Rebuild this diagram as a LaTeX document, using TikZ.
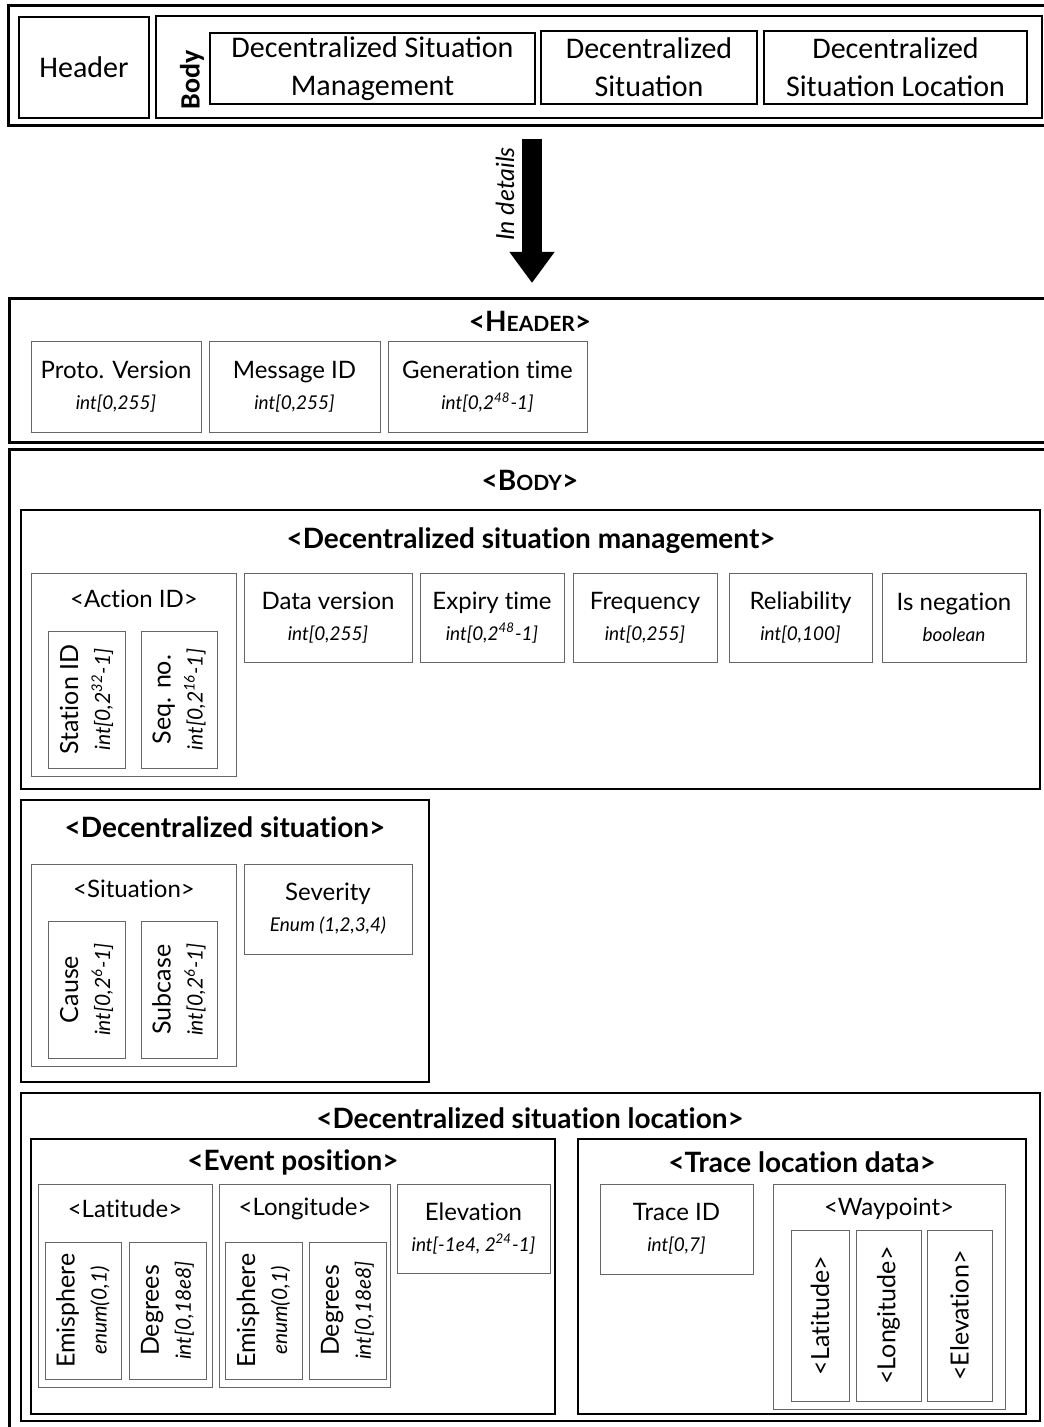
\documentclass[tikz,border=0pt]{standalone}
\usepackage{fontspec}
\setmainfont{Lato}[RawFeature={-liga;-clig;-calt;-rlig;-dlig}]
\newfontfamily\calibri{Carlito}
\usetikzlibrary{fit,arrows.meta}

\newcommand{\rng}[1]{{\itshape\fontsize{9.5}{11}\selectfont #1}}
\newcommand{\rrng}[1]{{\itshape\fontsize{10.5}{12}\selectfont #1}}
\newcommand{\smcp}[1]{{\fontsize{10.5}{12}\selectfont #1}}

\tikzset{
  frame/.style={draw, line width=1.5pt, inner sep=0pt},
  block/.style={draw, line width=1.2pt, inner sep=0pt},
  group/.style={draw=black!60, line width=0.5pt, inner sep=0pt},
  ftext/.style={align=center, font=\fontsize{12}{15.5}\selectfont},
  vtext/.style={rotate=90, align=center, font=\fontsize{12.5}{16}\selectfont},
  title/.style={font=\bfseries\fontsize{14}{16}\selectfont},
  caption/.style={font=\fontsize{12}{15}\selectfont},
  topbox/.style={draw, line width=1pt, inner sep=0pt},
  toptext/.style={align=center, font=\calibri\fontsize{15}{19}\selectfont},
  bigarrow/.style={line width=10pt, -{Triangle[width=21.5pt, length=15.5pt]}},
}

\begin{document}
\begin{tikzpicture}[x=0.5pt, y=-0.5pt]
  \useasboundingbox (0,0) rectangle (1043,1427);

  % message overview
  \node[frame, fit={(8,6) (1050,126)}] (overview) {};
  \node[topbox, fit={(19,17) (149,118)}] (hdr) {};
  \node[toptext] (hdrText) at (hdr) {Header};
  \node[topbox, fit={(156,16) (1042,118)}] (body) {};
  \node[rotate=90, font=\calibri\bfseries\fontsize{14}{16}\selectfont] (bodyLabel) at (192,80) {Body};
  \node[topbox, fit={(210,33) (535,104)}] (dsm) {};
  \node[toptext] (dsmText) at (dsm) {Decentralized Situation\\Management};
  \node[topbox, fit={(541,31) (757,104)}] (ds) {};
  \node[toptext] (dsText) at (ds) {Decentralized\\Situation};
  \node[topbox, fit={(764,31) (1027,104)}] (dsl) {};
  \node[toptext] (dslText) at (dsl) {Decentralized\\Situation Location};

  \coordinate (arrowStart) at (532,139);
  \coordinate (arrowEnd) at (532,283);
  \draw[bigarrow] (arrowStart) -- (arrowEnd);
  \node[rotate=90, font=\itshape\fontsize{12.5}{15}\selectfont] (inDetails) at (505,194) {In details};

  % header
  \node[frame, fit={(9,299) (1051,442)}] (header) {};
  \node[title] (headerTitle) at (530,321) {<H\smcp{EADER}>};
  \node[group, fit={(31,342) (201,432)}] (proto) {};
  \node[ftext] (protoText) at (proto) {Proto. Version\\\rng{int[0,255]}};
  \node[group, fit={(209,342) (380,432)}] (msgId) {};
  \node[ftext] (msgIdText) at (msgId) {Message ID\\\rng{int[0,255]}};
  \node[group, fit={(388,342) (587,432)}] (genTime) {};
  \node[ftext] (genTimeText) at (genTime) {Generation time\\\rng{int[0,2\textsuperscript{48}-1]}};

  % body
  \node[frame, fit={(9,449) (1051,1432)}] (bodyFrame) {};
  \node[title] (bodyTitle) at (530,480) {<B\smcp{ODY}>};

  % decentralized situation management
  \node[block, fit={(21,510) (1040,789)}] (dsmFrame) {};
  \node[title] (dsmTitle) at (531,541) {<Decentralized situation management>};
  \node[group, fit={(31,573) (236,776)}] (actionId) {};
  \node[caption] (actionIdTitle) at (134,599) {<Action ID>};
  \node[group, fit={(48,631) (125,768)}] (stationId) {};
  \node[vtext] (stationIdText) at (stationId) {Station ID\\\rrng{int[0,2\textsuperscript{32}-1]}};
  \node[group, fit={(141,631) (217,768)}] (seqNo) {};
  \node[vtext] (seqNoText) at (seqNo) {Seq. no.\\\rrng{int[0,2\textsuperscript{16}-1]}};
  \node[group, fit={(244,573) (412,662)}] (dataVersion) {};
  \node[ftext] (dataVersionText) at (dataVersion) {Data version\\\rng{int[0,255]}};
  \node[group, fit={(420,573) (564,662)}] (expiry) {};
  \node[ftext] (expiryText) at (expiry) {Expiry time\\\rng{int[0,2\textsuperscript{48}-1]}};
  \node[group, fit={(573,573) (717,662)}] (frequency) {};
  \node[ftext] (frequencyText) at (frequency) {Frequency\\\rng{int[0,255]}};
  \node[group, fit={(729,573) (872,662)}] (reliability) {};
  \node[ftext] (reliabilityText) at (reliability) {Reliability\\\rng{int[0,100]}};
  \node[group, fit={(882,573) (1026,662)}] (negation) {};
  \node[ftext] (negationText) at (negation) {Is negation\\\rng{boolean}};

  % decentralized situation
  \node[block, fit={(21,800) (429,1082)}] (dsFrame) {};
  \node[title] (dsTitle) at (225,827) {<Decentralized situation>};
  \node[group, fit={(31,864) (236,1066)}] (situation) {};
  \node[caption] (situationTitle) at (134,889) {<Situation>};
  \node[group, fit={(48,921) (125,1058)}] (cause) {};
  \node[vtext] (causeText) at (cause) {Cause\\\rrng{int[0,2\textsuperscript{6}-1]}};
  \node[group, fit={(141,921) (217,1058)}] (subcase) {};
  \node[vtext] (subcaseText) at (subcase) {Subcase\\\rrng{int[0,2\textsuperscript{6}-1]}};
  \node[group, fit={(244,864) (412,954)}] (severity) {};
  \node[ftext] (severityText) at (severity) {Severity\\\rng{Enum (1,2,3,4)}};

  % decentralized situation location
  \node[block, fit={(21,1093) (1040,1421)}] (dslFrame) {};
  \node[title] (dslTitle) at (530,1118) {<Decentralized situation location>};

  \node[block, fit={(31,1139) (555,1414)}] (eventPos) {};
  \node[title] (eventPosTitle) at (293,1162) {<Event position>};
  \node[group, fit={(38,1184) (212,1387)}] (latitude) {};
  \node[caption] (latitudeTitle) at (125,1209) {<Latitude>};
  \node[group, fit={(45,1242) (121,1379)}] (latEmi) {};
  \node[vtext] (latEmiText) at (latEmi) {Emisphere\\\rrng{enum(0,1)}};
  \node[group, fit={(129,1242) (206,1379)}] (latDeg) {};
  \node[vtext] (latDegText) at (latDeg) {Degrees\\\rrng{int[0,18e8]}};
  \node[group, fit={(219,1184) (390,1387)}] (longitude) {};
  \node[caption] (longitudeTitle) at (305,1209) {<Longitude>};
  \node[group, fit={(225,1242) (302,1379)}] (lonEmi) {};
  \node[vtext] (lonEmiText) at (lonEmi) {Emisphere\\\rrng{enum(0,1)}};
  \node[group, fit={(309,1242) (386,1379)}] (lonDeg) {};
  \node[vtext] (lonDegText) at (lonDeg) {Degrees\\\rrng{int[0,18e8]}};
  \node[group, fit={(397,1184) (550,1273)}] (elevation) {};
  \node[ftext] (elevationText) at (elevation) {Elevation\\\rng{int[-1e4, 2\textsuperscript{24}-1]}};

  \node[block, fit={(578,1139) (1026,1414)}] (trace) {};
  \node[title] (traceTitle) at (802,1162) {<Trace location data>};
  \node[group, fit={(600,1184) (753,1274)}] (traceId) {};
  \node[ftext] (traceIdText) at (traceId) {Trace ID\\\rng{int[0,7]}};
  \node[group, fit={(773,1184) (1005,1409)}] (waypoint) {};
  \node[caption] (waypointTitle) at (889,1209) {<Waypoint>};
  \node[group, fit={(791,1230) (849,1401)}] (wpLat) {};
  \node[vtext] (wpLatText) at (wpLat) {<Latitude>};
  \node[group, fit={(856,1230) (921,1401)}] (wpLon) {};
  \node[vtext] (wpLonText) at (wpLon) {<Longitude>};
  \node[group, fit={(927,1230) (992,1401)}] (wpEle) {};
  \node[vtext] (wpEleText) at (wpEle) {<Elevation>};
\end{tikzpicture}
\end{document}
